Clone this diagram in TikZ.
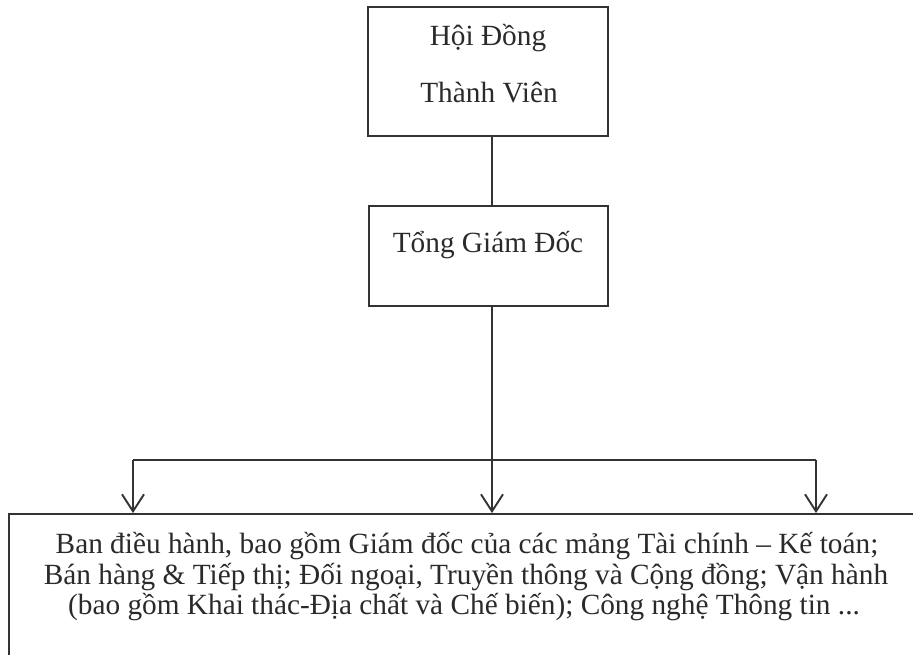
\documentclass[tikz,border=0pt]{standalone}
\usepackage{fontspec}
\setmainfont{Liberation Serif}
\usetikzlibrary{arrows.meta}
\definecolor{ink}{HTML}{333333}
\definecolor{txt}{HTML}{2A2A2A}
\tikzset{
  boxnode/.style={draw=ink, line width=1.9pt, rectangle, inner sep=0pt},
  lbl/.style={anchor=base, text=txt, inner sep=0pt, font=\fontsize{29.3}{31}\selectfont},
  conn/.style={draw=ink, line width=1.9pt},
  arr/.style={conn, -{Straight Barb[length=17pt,width=22pt,line width=1.9pt]}}
}
\begin{document}
\begin{tikzpicture}[x=1pt,y=-1pt]
\useasboundingbox (0,0) rectangle (913,655);
\clip (0,0) rectangle (913,655);
\fill[white] (0,0) rectangle (913,655);
% boxes
\node[boxnode, minimum width=240pt, minimum height=129pt] (hdtv) at (488,71.5) {};
\node[boxnode, minimum width=239pt, minimum height=100pt] (tgd) at (488.5,256) {};
\node[boxnode, minimum width=914pt, minimum height=170pt] (ban) at (466,599) {};
% texts
\node[lbl] (t1) at (488,46) {Hội Đồng};
\node[lbl] (t2) at (489,103) {Thành Viên};
\node[lbl] (t3) at (488,253) {Tổng Giám Đốc};
\node[lbl] (b1) at (467,553) {Ban điều hành, bao gồm Giám đốc của các mảng Tài chính – Kế toán;};
\node[lbl] (b2) at (466,584) {Bán hàng \& Tiếp thị; Đối ngoại, Truyền thông và Cộng đồng; Vận hành};
\node[lbl] (b3) at (464,614) {(bao gồm Khai thác-Địa chất và Chế biến); Công nghệ Thông tin ...};
% connectors
\coordinate (c) at (492,460);
\coordinate (bl) at (133,460);
\coordinate (br) at (816,460);
\draw[conn] (hdtv.south -| c) -- (tgd.north -| c);
\draw[arr] (tgd.south -| c) -- (ban.north -| c);
\draw[conn] (bl) -- (br);
\draw[arr] (bl) -- (ban.north -| bl);
\draw[arr] (br) -- (ban.north -| br);
\end{tikzpicture}
\end{document}
